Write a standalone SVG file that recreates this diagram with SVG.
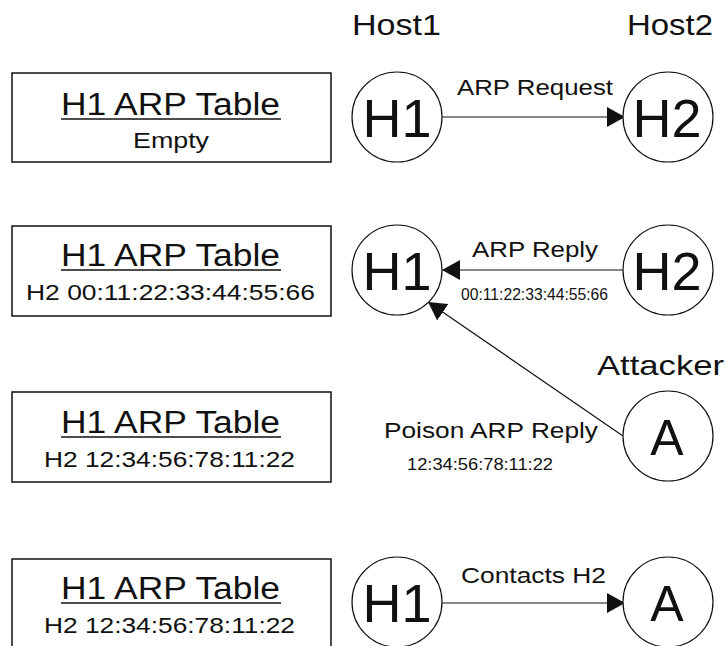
<svg xmlns="http://www.w3.org/2000/svg" width="727" height="646" viewBox="0 0 727 646">
<style>
text{font-family:"Liberation Sans",Arial,sans-serif;fill:#111}
.box{fill:#fff;stroke:#111;stroke-width:1.5}
.node{fill:#fff;stroke:#111;stroke-width:1.2}
.ul{stroke:#111;stroke-width:1.6}
.title{font-size:31px}
.sub{font-size:22px}
.big{font-size:54px;text-anchor:middle}
.lbl{font-size:22px}
.small{font-size:16px}
.conn{stroke:#111;stroke-width:1.2;fill:none}
</style>
<defs>
<marker id="ah" markerUnits="userSpaceOnUse" markerWidth="18" markerHeight="20" refX="18" refY="10" orient="auto">
<path d="M0,0 L18,10 L0,20 z" fill="#111"/>
</marker>
</defs>
<rect width="727" height="646" fill="#fff"/>

<g id="table1">
<rect class="box" x="12" y="73" width="319" height="89"/>
<text class="title" x="61" y="115" textLength="219" lengthAdjust="spacingAndGlyphs">H1 ARP Table</text>
<line class="ul" x1="61" y1="119" x2="281" y2="119"/>
<text class="sub" x="133" y="148" textLength="76" lengthAdjust="spacingAndGlyphs">Empty</text>
</g>
<g id="table2">
<rect class="box" x="12" y="226" width="319" height="90"/>
<text class="title" x="61" y="266" textLength="219" lengthAdjust="spacingAndGlyphs">H1 ARP Table</text>
<line class="ul" x1="61" y1="270" x2="281" y2="270"/>
<text class="sub" x="26" y="300" textLength="289" lengthAdjust="spacingAndGlyphs">H2 00:11:22:33:44:55:66</text>
</g>
<g id="table3">
<rect class="box" x="12" y="392" width="319" height="90"/>
<text class="title" x="61" y="433" textLength="219" lengthAdjust="spacingAndGlyphs">H1 ARP Table</text>
<line class="ul" x1="61" y1="437" x2="281" y2="437"/>
<text class="sub" x="44" y="467" textLength="251" lengthAdjust="spacingAndGlyphs">H2 12:34:56:78:11:22</text>
</g>
<g id="table4">
<rect class="box" x="12" y="559" width="319" height="100"/>
<text class="title" x="61" y="599" textLength="219" lengthAdjust="spacingAndGlyphs">H1 ARP Table</text>
<line class="ul" x1="61" y1="603" x2="281" y2="603"/>
<text class="sub" x="44" y="633" textLength="251" lengthAdjust="spacingAndGlyphs">H2 12:34:56:78:11:22</text>
</g>

<g id="headers">
<text x="352" y="35" font-size="30" textLength="89" lengthAdjust="spacingAndGlyphs">Host1</text>
<text x="627" y="35" font-size="30" textLength="86" lengthAdjust="spacingAndGlyphs">Host2</text>
<text x="597" y="375" font-size="28" textLength="127" lengthAdjust="spacingAndGlyphs">Attacker</text>
</g>

<g id="connectors">
<line class="conn" x1="442" y1="117" x2="625" y2="117" marker-end="url(#ah)"/>
<line class="conn" x1="623" y1="270" x2="442" y2="270" marker-end="url(#ah)"/>
<line class="conn" x1="623" y1="436" x2="428" y2="302" marker-end="url(#ah)"/>
<line class="conn" x1="442" y1="603" x2="625" y2="603" marker-end="url(#ah)"/>
<text class="lbl" x="457" y="95" textLength="156" lengthAdjust="spacingAndGlyphs">ARP Request</text>
<text class="lbl" x="472" y="257" textLength="126" lengthAdjust="spacingAndGlyphs">ARP Reply</text>
<text class="small" x="461" y="300" textLength="147" lengthAdjust="spacingAndGlyphs">00:11:22:33:44:55:66</text>
<text class="lbl" x="384" y="438" font-size="24" textLength="214" lengthAdjust="spacingAndGlyphs">Poison ARP Reply</text>
<text class="small" x="407" y="470" textLength="146" lengthAdjust="spacingAndGlyphs">12:34:56:78:11:22</text>
<text class="lbl" x="461" y="583" font-size="24" textLength="145" lengthAdjust="spacingAndGlyphs">Contacts H2</text>
</g>

<g id="h1-row1"><circle class="node" cx="397" cy="117" r="45"/><text class="big" x="397" y="137">H1</text></g>
<g id="h2-row1"><circle class="node" cx="668" cy="117" r="45"/><text class="big" x="667" y="137">H2</text></g>
<g id="h1-row2"><circle class="node" cx="397" cy="270" r="45"/><text class="big" x="397" y="290">H1</text></g>
<g id="h2-row2"><circle class="node" cx="668" cy="270" r="45"/><text class="big" x="667" y="290">H2</text></g>
<g id="attacker"><circle class="node" cx="668" cy="436" r="45"/><text x="667" y="455" font-size="50" text-anchor="middle">A</text></g>
<g id="h1-row4"><circle class="node" cx="397" cy="602" r="45"/><text class="big" x="397" y="622">H1</text></g>
<g id="a-row4"><circle class="node" cx="668" cy="602" r="45"/><text x="667" y="621" font-size="50" text-anchor="middle">A</text></g>
</svg>
